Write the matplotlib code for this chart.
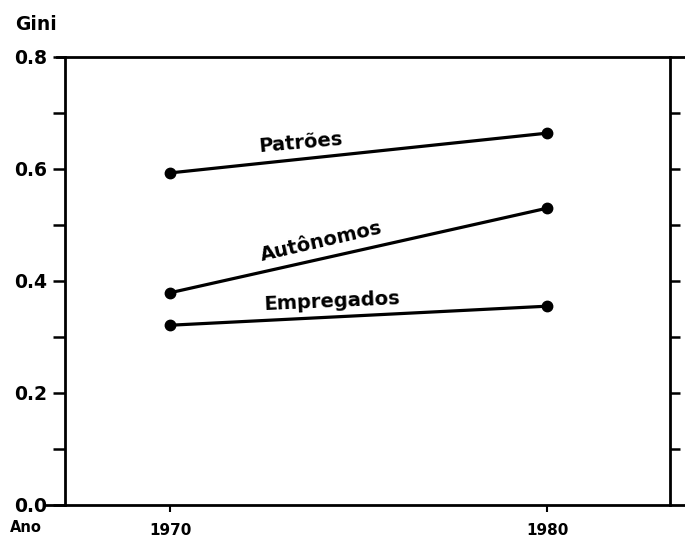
import matplotlib
matplotlib.use("Agg")
import matplotlib.pyplot as plt
import numpy as np

# Values
years = [1970, 1980]
patroes = [0.593, 0.664]
autonomos = [0.379, 0.530]
empregados = [0.321, 0.355]

series_names = ["Patrões", "Autônomos", "Empregados"]
series_values = [patroes, autonomos, empregados]

yticks_major = [0.0, 0.2, 0.4, 0.6, 0.8]
yticks_minor = [0.1, 0.3, 0.5, 0.7]
yticks_right = [0.1, 0.2, 0.3, 0.4, 0.5, 0.6, 0.7]

plt.rcParams["font.family"] = ["DejaVu Sans"]

fig = plt.figure(figsize=(6.85, 5.47), dpi=100)
ax = fig.add_axes([0.0657, 0.0768, 0.9343, 0.819])

ax.set_xlim(1966.68, 1983.66)
ax.set_ylim(0, 0.8)

for vals in series_values:
    ax.plot(years, vals, color="black", linewidth=2.3, marker="o",
            markersize=7.5, solid_capstyle="round", clip_on=False)

# labels along the lines
label_pos = [(1973.45, 0.646, 5), (1974.0, 0.470, 13), (1974.3, 0.3625, 2.5)]
for name, (lx, ly, rot) in zip(series_names, label_pos):
    ax.text(lx, ly, name, ha="center", va="center", rotation=rot,
            fontsize=14, fontweight="semibold", rotation_mode="anchor")

# frame: left and right spines placed in data coordinates
ax.spines["left"].set_position(("data", 1967.21))
ax.spines["right"].set_position(("data", 1983.26))
ax.spines["top"].set_bounds(1967.0, 1983.66)
for s in ax.spines.values():
    s.set_linewidth(2)

ax.set_yticks(yticks_major)
ax.set_yticks(yticks_minor, minor=True)
ax.set_yticklabels(["%.1f" % v for v in yticks_major], fontsize=13.5,
                   fontweight="bold")
ax.tick_params(axis="y", which="both", direction="out", length=9, width=1.8,
               pad=4)

# right side ticks (no labels)
ax2 = ax.twinx()
ax2.set_ylim(0, 0.8)
for s in ax2.spines.values():
    s.set_visible(False)
ax2.spines["right"].set_position(("data", 1983.26))
ax2.set_yticks(yticks_right)
ax2.set_yticklabels([])
ax2.tick_params(axis="y", direction="out", length=7, width=1.8)

ax.set_xticks(years)
ax.set_xticklabels([str(y) for y in years], fontsize=11, fontweight="bold")
ax.tick_params(axis="x", direction="out", length=5, width=1.5, pad=8)

fig.text(0.022, 0.955, "Gini", fontsize=13.5, fontweight="bold", ha="left",
         va="center")
fig.text(0.014, 0.036, "Ano", fontsize=10.5, fontweight="bold", ha="left",
         va="center")

fig.savefig("out.png", dpi=100)
